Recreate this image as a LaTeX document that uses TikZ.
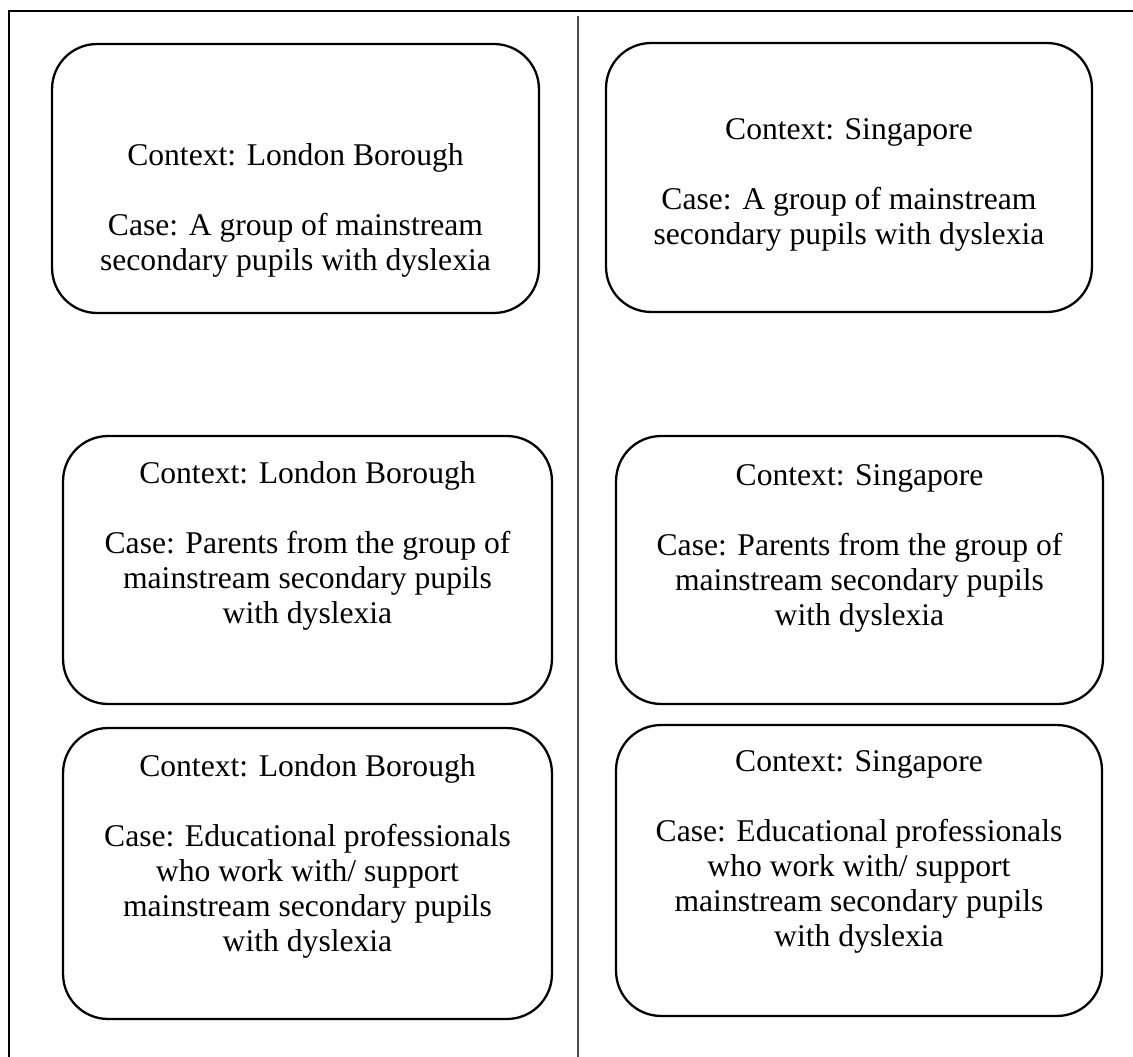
\documentclass[tikz,border=0pt]{standalone}
\usepackage{fontspec}
\setmainfont{Liberation Serif}

\begin{document}
\begin{tikzpicture}
  [x=0.02cm,y=-0.02cm,
   casebox/.style={draw,line width=1.3pt,rounded corners=0.9cm,inner sep=0pt},
   casetext/.style={anchor=north,align=center,inner sep=0pt,
     font=\fontsize{18}{19.9}\selectfont}]
  \useasboundingbox (0,0) rectangle (1133,1057);

  % frame and divider
  \draw[line width=1.3pt] (9,1057) -- (9,11) -- (1133,11);
  \draw[line width=0.6pt,black!70] (578,16) -- (578,1057);

  % pupils
  \node[casebox,minimum width=9.74cm,minimum height=5.38cm] (lon1) at (295.5,178.5) {};
  \node[casebox,minimum width=9.72cm,minimum height=5.38cm] (sg1) at (849,177.5) {};
  \node[casetext] (lon1t) at (295.5,143) {Context: London Borough\\[19.9pt]Case: A group of mainstream\\secondary pupils with dyslexia};
  \node[casetext] (sg1t) at (849,118) {Context: Singapore\\[19.9pt]Case: A group of mainstream\\secondary pupils with dyslexia};

  % parents
  \node[casebox,minimum width=9.78cm,minimum height=5.36cm] (lon2) at (307.5,570) {};
  \node[casebox,minimum width=9.74cm,minimum height=5.36cm] (sg2) at (859.5,570) {};
  \node[casetext] (lon2t) at (307.5,461) {Context: London Borough\\[19.9pt]Case: Parents from the group of\\mainstream secondary pupils\\with dyslexia};
  \node[casetext] (sg2t) at (859.5,464) {Context: Singapore\\[19.9pt]Case: Parents from the group of\\mainstream secondary pupils\\with dyslexia};

  % professionals
  \node[casebox,minimum width=9.78cm,minimum height=5.82cm] (lon3) at (307.5,873.5) {};
  \node[casebox,minimum width=9.72cm,minimum height=5.82cm] (sg3) at (859,870.5) {};
  \node[casetext] (lon3t) at (307.5,754) {Context: London Borough\\[19.9pt]Case: Educational professionals\\who work with/ support\\mainstream secondary pupils\\with dyslexia};
  \node[casetext] (sg3t) at (859,750) {Context: Singapore\\[19.9pt]Case: Educational professionals\\who work with/ support\\mainstream secondary pupils\\with dyslexia};

\end{tikzpicture}
\end{document}
